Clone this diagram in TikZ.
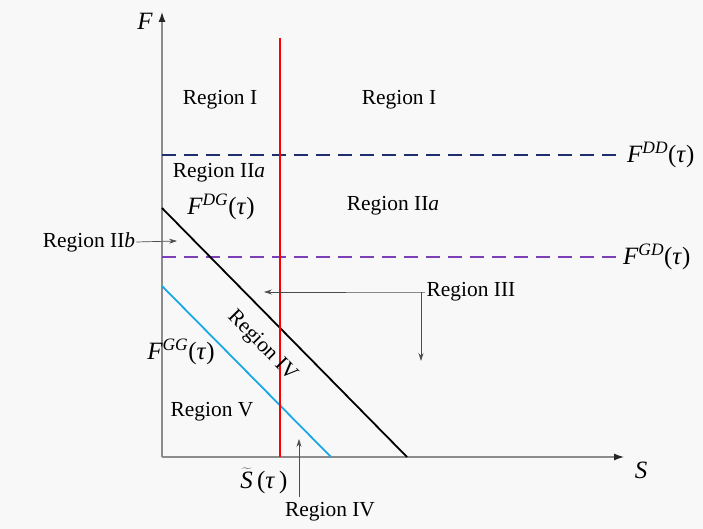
\documentclass[tikz,border=0pt]{standalone}
\usepackage{fontspec}
\setmainfont{Liberation Serif}
\usetikzlibrary{positioning,arrows.meta}
\definecolor{bggray}{HTML}{F8F8F8}
\definecolor{axisgray}{HTML}{8C8C8C}
\definecolor{ddblue}{HTML}{1F2F6E}
\definecolor{gdpurple}{HTML}{7B3FB8}
\definecolor{ggcyan}{HTML}{1AA8E6}
\newcommand{\curvename}[1]{{\itshape F}\textsuperscript{\itshape #1}(\textit{τ})}

\begin{document}
\begin{tikzpicture}[x=1bp, y=1bp]
    % Styles
    \tikzstyle{axis} = [draw=axisgray, line width=1.3pt, -{Latex[length=10pt,width=7pt,color=black!85]}]
    \tikzstyle{region} = [font=\fontsize{21.5}{25}\selectfont, inner sep=1pt]
    \tikzstyle{curvelabel} = [font=\fontsize{25}{29}\selectfont, inner sep=1pt]
    \tikzstyle{pointer} = [draw=black!70, line width=0.7pt, -{Stealth[length=8pt,width=5pt]}]
    \tikzstyle{threshold} = [line width=1.6pt, dash pattern=on 14bp off 8bp]

    % Canvas
    \useasboundingbox[fill=bggray] (0,0) rectangle (703,529);

    % Axes
    \coordinate (origin) at (162,72);
    \coordinate (ftop) at (162,517);
    \coordinate (send) at (624,72);
    \draw [axis] (origin) -- (ftop);
    \draw [axis] (origin) -- (send);
    \node (flabel) [curvelabel] at (145,508) {\textit{F}};
    \node (slabel) [curvelabel] at (641,59) {\textit{S}};

    % Thresholds
    \coordinate (ddleft) at (162,374);
    \coordinate (ddright) at (620,374);
    \coordinate (gdleft) at (162,272);
    \coordinate (gdright) at (618,272);
    \draw [threshold, draw=ddblue] (ddleft) -- (ddright);
    \draw [threshold, draw=gdpurple] (gdleft) -- (gdright);
    \node (ddlabel) [curvelabel, anchor=west] at (626,374) {\curvename{DD}};
    \node (gdlabel) [curvelabel, anchor=west] at (622,272) {\curvename{GD}};

    % Boundary lines
    \coordinate (dgtop) at (162,321);
    \coordinate (dgbot) at (407,72);
    \coordinate (ggtop) at (162,243);
    \coordinate (ggbot) at (331,72);
    \coordinate (redtop) at (280,491);
    \coordinate (redbot) at (280,72);
    \draw [line width=1.8pt, black] (dgtop) -- (dgbot);
    \draw [line width=1.8pt, ggcyan] (ggtop) -- (ggbot);
    \draw [line width=1.8pt, red] (redtop) -- (redbot);
    \node (dglabel) [curvelabel] at (221,322) {\curvename{DG}};
    \node (gglabel) [curvelabel] at (181,177) {\curvename{GG}};
    \node (stilde) [curvelabel] at (264,48) {$\widetilde{\mbox{\itshape S}}$\,(\textit{τ}\,)};

    % Regions
    \node (regIa) [region] at (220,429) {Region I};
    \node (regIb) [region] at (399,429) {Region I};
    \node (regIIa) [region] at (219,356) {Region II\textit{a}};
    \node (regIIc) [region] at (393,323) {Region II\textit{a}};
    \node (regIIb) [region] at (89,287) {Region II\textit{b}};
    \node (regIII) [region] at (471,237) {Region III};
    \node (regIVa) [region, rotate=-45.5] at (262,183) {Region IV};
    \node (regV) [region] at (212,117) {Region V};
    \node (regIVb) [region] at (330,17) {Region IV};

    % Pointers
    \coordinate (iibtip) at (177,288);
    \coordinate (iiicorner) at (421,237);
    \coordinate (iiitip) at (264,237);
    \coordinate (iiidown) at (421,168);
    \coordinate (ivfoot) at (299,32);
    \coordinate (ivtip) at (299,90);
    \draw [pointer] (regIIb.east) -- (iibtip);
    \draw [pointer] (regIII.west) -- (iiicorner) -- (iiitip);
    \draw [pointer] (iiicorner) -- (iiidown);
    \draw [pointer] (ivfoot) -- (ivtip);

\end{tikzpicture}
\end{document}
